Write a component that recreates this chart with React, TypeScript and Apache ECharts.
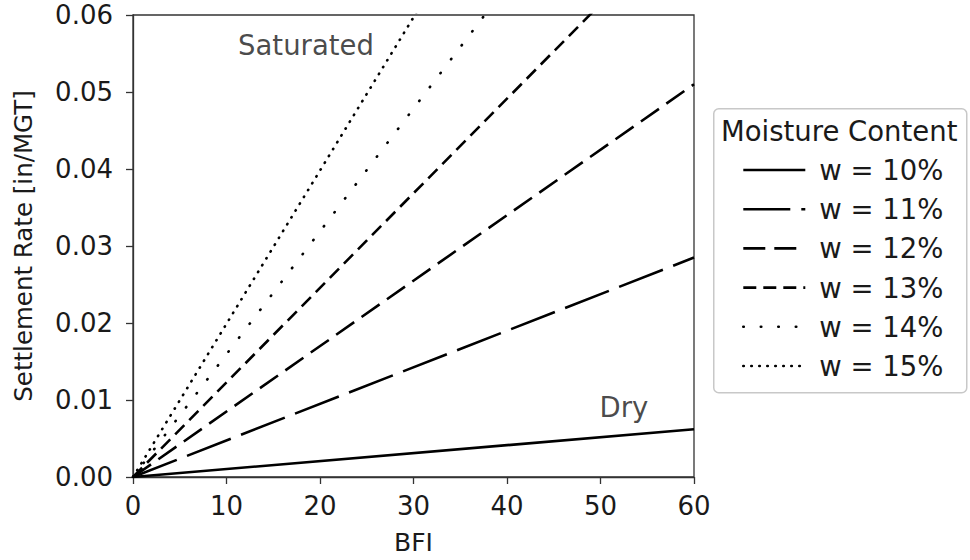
import React, { useEffect, useRef } from "react";
import * as echarts from "echarts";

const bfi = [0, 60];
const seriesNames = ["w = 10%", "w = 11%", "w = 12%", "w = 13%", "w = 14%", "w = 15%"];
const rateAt0 = [0, 0, 0, 0, 0, 0];
const rateAt60 = [0.0062, 0.0285, 0.051, 0.0737, 0.0957, 0.1194];
const xTicks = [0, 10, 20, 30, 40, 50, 60];
const yTicks = [0, 0.01, 0.02, 0.03, 0.04, 0.05, 0.06];
const annotationText = ["Saturated", "Dry"];
const annotationX = [18.5, 52.5];
const annotationY = [0.0561, 0.0091];

const dashes: any[] = ["solid", [47, 11], [22, 9], [13, 7], [0.5, 17], [0.5, 7.5]];
const caps = ["butt", "butt", "butt", "butt", "round", "round"];

const FONT = "DejaVu Sans";
const TXT = "#1a1a1a";

export default function App() {
  const ref = useRef<HTMLDivElement>(null);
  useEffect(() => {
    if (!ref.current) return;
    const chart = echarts.init(ref.current, null, { renderer: "svg" });
    const lines = seriesNames.map((name, i) => ({
      name,
      type: "line",
      data: bfi.map((x, k) => [x, k === 0 ? rateAt0[i] : rateAt60[i]]),
      symbol: "none",
      showSymbol: false,
      clip: true,
      lineStyle: { color: "#000", width: 2.6, type: dashes[i], cap: caps[i] },
      itemStyle: { color: "#000" },
      z: 3,
    }));
    const option: any = {
      animation: false,
      backgroundColor: "#fff",
      textStyle: { fontFamily: FONT },
      grid: {
        left: 133,
        right: 276,
        top: 15,
        bottom: 78,
        show: true,
        borderColor: "#333",
        borderWidth: 1.3,
        containLabel: false,
      },
      xAxis: {
        type: "value",
        min: xTicks[0],
        max: xTicks[xTicks.length - 1],
        interval: 10,
        name: "BFI",
        nameLocation: "middle",
        nameGap: 53,
        nameTextStyle: { fontSize: 25, color: TXT, fontFamily: FONT },
        axisLine: { show: true, lineStyle: { color: "#333", width: 1.3 } },
        axisTick: { show: true, length: 7, lineStyle: { color: "#333", width: 1.3 } },
        axisLabel: { fontSize: 26, color: TXT, fontFamily: FONT, margin: 16 },
        splitLine: { show: false },
      },
      yAxis: {
        type: "value",
        min: yTicks[0],
        max: yTicks[yTicks.length - 1],
        interval: 0.01,
        name: "Settlement Rate [in/MGT]",
        nameLocation: "middle",
        nameGap: 97,
        nameRotate: 90,
        nameTextStyle: { fontSize: 24.5, color: TXT, fontFamily: FONT },
        axisLine: { show: true, lineStyle: { color: "#333", width: 1.3 } },
        axisTick: { show: true, length: 7, lineStyle: { color: "#333", width: 1.3 } },
        axisLabel: {
          fontSize: 26,
          color: TXT,
          fontFamily: FONT,
          margin: 20,
          formatter: (v: number) => v.toFixed(2),
        },
        splitLine: { show: false },
      },
      legend: {
        data: seriesNames,
        orient: "vertical",
        left: 737,
        top: 151,
        itemWidth: 62,
        itemHeight: 20,
        itemGap: 11.2,
        textStyle: {
          fontSize: 27.5,
          color: TXT,
          fontFamily: FONT,
          lineHeight: 26,
          padding: [0, 0, 0, 9],
        },
        itemStyle: { opacity: 0, borderWidth: 0 },
        lineStyle: { width: 2.6 },
        selectedMode: false,
      },
      graphic: [
        {
          type: "rect",
          left: 713,
          top: 108,
          shape: { width: 253, height: 284, r: 5 },
          style: { fill: "rgba(255,255,255,0.9)", stroke: "#c8c8c8", lineWidth: 1.5 },
          z: 0,
        },
        {
          type: "text",
          left: 721,
          top: 117,
          style: { text: "Moisture Content", fontSize: 27.5, fill: TXT, fontFamily: FONT },
          z: 10,
        },
      ],
      series: [
        ...lines,
        {
          name: "annotations",
          type: "scatter",
          symbolSize: 0,
          data: annotationText.map((t, i) => ({ value: [annotationX[i], annotationY[i]], name: t })),
          label: {
            show: true,
            position: "inside",
            formatter: (p: any) => p.name,
            fontSize: 27.5,
            color: TXT,
            fontFamily: FONT,
          },
          silent: true,
          z: 5,
        },
      ],
    };
    chart.setOption(option);
    return () => chart.dispose();
  }, []);
  return <div ref={ref} style={{ width: 970, height: 560, position: "absolute", left: 0, top: 0 }} />;
}
